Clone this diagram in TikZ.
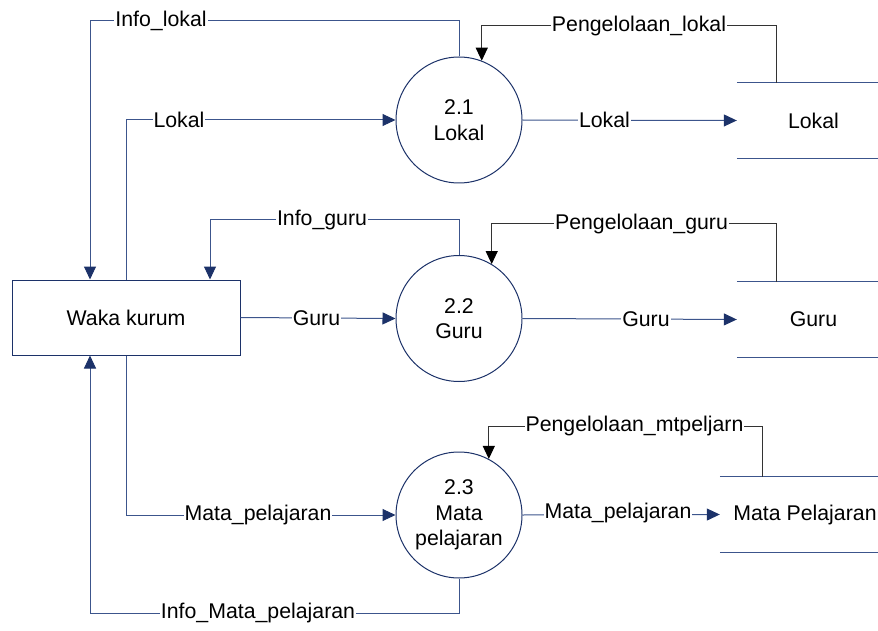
\documentclass[tikz,border=0pt]{standalone}
\usepackage{fontspec}
\setmainfont{Liberation Sans}
\usetikzlibrary{arrows.meta}
\definecolor{navy}{RGB}{28,50,105}
\definecolor{flowc}{RGB}{60,85,140}
\begin{document}
\begin{tikzpicture}[x=1pt,y=-1pt,
  font=\fontsize{21.3}{25.5}\selectfont,
  every node/.style={inner sep=0pt},
  proc/.style={circle,draw=navy,line width=1pt,minimum size=126pt,align=center,fill=white},
  ent/.style={rectangle,draw=navy,line width=1pt,minimum width=228pt,minimum height=75pt},
  store/.style={rectangle,minimum height=75pt},
  sline/.style={draw=flowc,line width=1pt},
  flow/.style={draw=flowc,line width=1pt,-{Triangle[length=13pt,width=12pt,fill=navy,color=navy]}},
  ctl/.style={draw=black!80,line width=1pt,-{Triangle[length=13pt,width=12pt,fill=black,color=black]}},
  lbl/.style={fill=white,inner xsep=1pt,inner ysep=1pt}]
\useasboundingbox (0,0) rectangle (878,631);

% entities and processes
\node[ent] (waka) at (126,317.5) {Waka kurum};
\node[proc] (p1) at (459,120) {2.1\\Lokal};
\node[proc] (p2) at (459,318.5) {2.2\\Guru};
\node[proc] (p3) at (459,515) {2.3\\Mata\\pelajaran};

% data stores
\node[store,minimum width=141pt] (s1) at (807.5,120.5) {\hspace*{12pt}Lokal};
\node[store,minimum width=141pt] (s2) at (807.5,319.5) {\hspace*{12pt}Guru};
\node[store,minimum width=158pt] (s3) at (799,514.5) {\hspace*{12pt}Mata Pelajaran};
\foreach \s in {s1,s2,s3}{
  \draw[sline] (\s.north west) -- (\s.north east);
  \draw[sline] (\s.south west) -- (\s.south east);
}

% bend coordinates
\coordinate (c1) at (90,21);
\coordinate (c2) at (210,220);
\coordinate (c3) at (90,613);
\coordinate (t1) at (776,83);
\coordinate (k1) at (776,26);
\coordinate (t2) at (776,282);
\coordinate (k2) at (776,224);
\coordinate (t3) at (762,477);
\coordinate (k3) at (762,426);

% flows
\draw[flow] (p1.north) |- (c1) -- (c1 |- waka.north);
\draw[flow] (waka.north) |- (p1.west);
\draw[flow] (p1.east) -- (s1.west);
\draw[ctl] (t1) -- (k1) -| (p1.69.6);

\draw[flow] (p2.north) |- (c2) -- (c2 |- waka.north);
\draw[flow] (waka.east) -- (p2.west);
\draw[flow] (p2.east) -- (s2.west);
\draw[ctl] (t2) -- (k2) -| (p2.59.5);

\draw[flow] (waka.south) |- (p3.west);
\draw[flow] (p3.south) |- (c3) -- (c3 |- waka.south);
\draw[flow] (p3.east) -- (s3.west);
\draw[ctl] (t3) -- (k3) -| (p3.62.6);

% labels
\node[lbl] (l1) at (161,21) {Info\_lokal};
\node[lbl] (l2) at (179,120) {Lokal};
\node[lbl] (l3) at (604.5,120) {Lokal};
\node[lbl] (l4) at (639,26) {Pengelolaan\_lokal};
\node[lbl] (l5) at (322,220) {Info\_guru};
\node[lbl] (l6) at (641.5,224) {Pengelolaan\_guru};
\node[lbl] (l7) at (316.5,318) {Guru};
\node[lbl] (l8) at (646,319) {Guru};
\node[lbl] (l9) at (258,515) {Mata\_pelajaran};
\node[lbl] (l10) at (618,513) {Mata\_pelajaran};
\node[lbl] (l11) at (634.5,426) {Pengelolaan\_mtpeljarn};
\node[lbl] (l12) at (258,613) {Info\_Mata\_pelajaran};
\end{tikzpicture}
\end{document}
